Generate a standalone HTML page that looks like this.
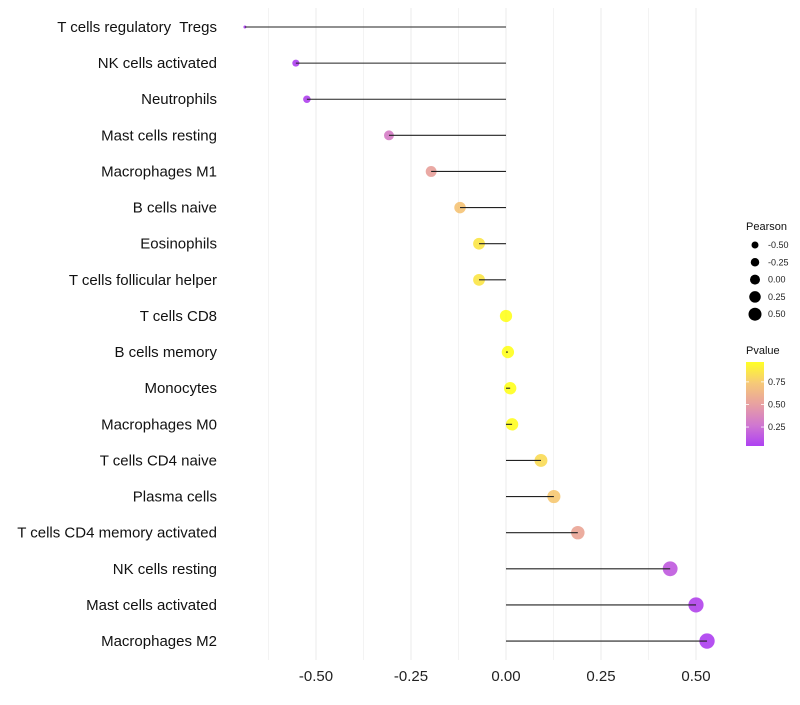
<!DOCTYPE html>
<html><head><meta charset="utf-8">
<style>
body{margin:0;background:#fff;font-family:"Liberation Sans",sans-serif;}
svg text{font-family:"Liberation Sans",sans-serif;white-space:pre;}
</style></head>
<body>
<svg id="chart" width="800" height="700">
<defs>
<linearGradient id="pg" x1="0" y1="1" x2="0" y2="0">
<stop offset="0" stop-color="#a020f0"/>
<stop offset="0.25" stop-color="#c860c8"/>
<stop offset="0.5" stop-color="#e49090"/>
<stop offset="0.75" stop-color="#f5c060"/>
<stop offset="1" stop-color="#ffff00"/>
</linearGradient>
</defs>
<g id="grid"></g><g id="marks"></g><g id="axes"></g>
<g id="legend"></g>
</svg>
<script>
const categories=["T cells regulatory  Tregs","NK cells activated","Neutrophils","Mast cells resting","Macrophages M1","B cells naive","Eosinophils","T cells follicular helper","T cells CD8","B cells memory","Monocytes","Macrophages M0","T cells CD4 naive","Plasma cells","T cells CD4 memory activated","NK cells resting","Mast cells activated","Macrophages M2"];
const pearson=[-0.687,-0.553,-0.524,-0.308,-0.197,-0.121,-0.071,-0.071,0.0,0.005,0.011,0.016,0.092,0.126,0.189,0.432,0.5,0.529];
const pvalue=[0.04,0.06,0.07,0.32,0.52,0.72,0.86,0.86,1.0,0.98,0.97,0.96,0.82,0.74,0.55,0.17,0.08,0.06];
const xTicks=[-0.5,-0.25,0,0.25,0.5];
const xTickLabels=["-0.50","-0.25","0.00","0.25","0.50"];
const legendSizes=[-0.5,-0.25,0,0.25,0.5];
const legendSizeLabels=["-0.50","-0.25","0.00","0.25","0.50"];
const legendP=[0.75,0.5,0.25];

const NS="http://www.w3.org/2000/svg";
const x=v=>506+v*380;
const y=i=>27+i*36.12;
const r=p=>1.5+5.6*Math.sqrt(Math.max(0,p+0.687));
const rLeg=p=>3.5+(p+0.5)*3;
const stops=[[0,[160,32,240]],[0.25,[200,96,200]],[0.5,[228,144,144]],[0.75,[245,192,96]],[1,[255,255,0]]];
function col(p){const t=Math.min(1,Math.max(0,(p-0.04)/0.93));
for(let k=1;k<stops.length;k++){if(t<=stops[k][0]){const a=stops[k-1],b=stops[k];const f=(t-a[0])/(b[0]-a[0]);
return "rgb("+a[1].map((c,j)=>Math.round(c+(b[1][j]-c)*f)).join(",")+")";}}return "rgb(255,255,0)";}
function el(tag,attrs,parent,text){const e=document.createElementNS(NS,tag);for(const k in attrs)e.setAttribute(k,attrs[k]);if(text!=null)e.textContent=text;parent.appendChild(e);return e;}
const grid=document.getElementById('grid'),marks=document.getElementById('marks'),axes=document.getElementById('axes'),lg=document.getElementById('legend');
for(let k=-5;k<=4;k++){const v=k*0.125;const gl=el('line',{x1:x(v),x2:x(v),y1:8,y2:660,stroke:(k%2===0)?'#ebebeb':'#f3f3f3','stroke-width':1},grid);

}
xTicks.forEach((v,i)=>{const t=el('text',{x:x(v),y:681,'text-anchor':'middle','font-size':15,fill:'#222'},axes,xTickLabels[i]);

});
categories.forEach((c,i)=>{
const t=el('text',{x:217,y:y(i)+5,'text-anchor':'end','font-size':15,fill:'#111'},axes,c);


const ci=el('circle',{cx:x(pearson[i]),cy:y(i),r:r(pearson[i]),fill:col(pvalue[i]),'fill-opacity':0.8},marks);


const ln=el('line',{x1:x(0),x2:x(pearson[i]),y1:y(i),y2:y(i),stroke:'#222','stroke-width':1.1},marks);


});
const lt=el('text',{x:746,y:230,'font-size':11,fill:'#111'},lg,'Pearson');


legendSizes.forEach((p,i)=>{const cy=245+i*17.3;
const c=el('circle',{cx:755,cy:cy,r:rLeg(p),fill:'#000'},lg);


const t=el('text',{x:768,y:cy+3,'font-size':9,fill:'#222'},lg,legendSizeLabels[i]);

});
const pt=el('text',{x:746,y:354,'font-size':11,fill:'#111'},lg,'Pvalue');


const bar=el('rect',{x:746,y:362,width:18,height:84,fill:'url(#pg)','fill-opacity':0.85},lg);


legendP.forEach(p=>{const yy=446-(p-0.04)/0.93*84;
el('line',{x1:746,x2:749,y1:yy,y2:yy,stroke:'#fff','stroke-width':0.8},lg);
el('line',{x1:761,x2:764,y1:yy,y2:yy,stroke:'#fff','stroke-width':0.8},lg);
const t=el('text',{x:768,y:yy+3,'font-size':9,fill:'#222'},lg,p.toFixed(2));

});
</script>
</body></html>
